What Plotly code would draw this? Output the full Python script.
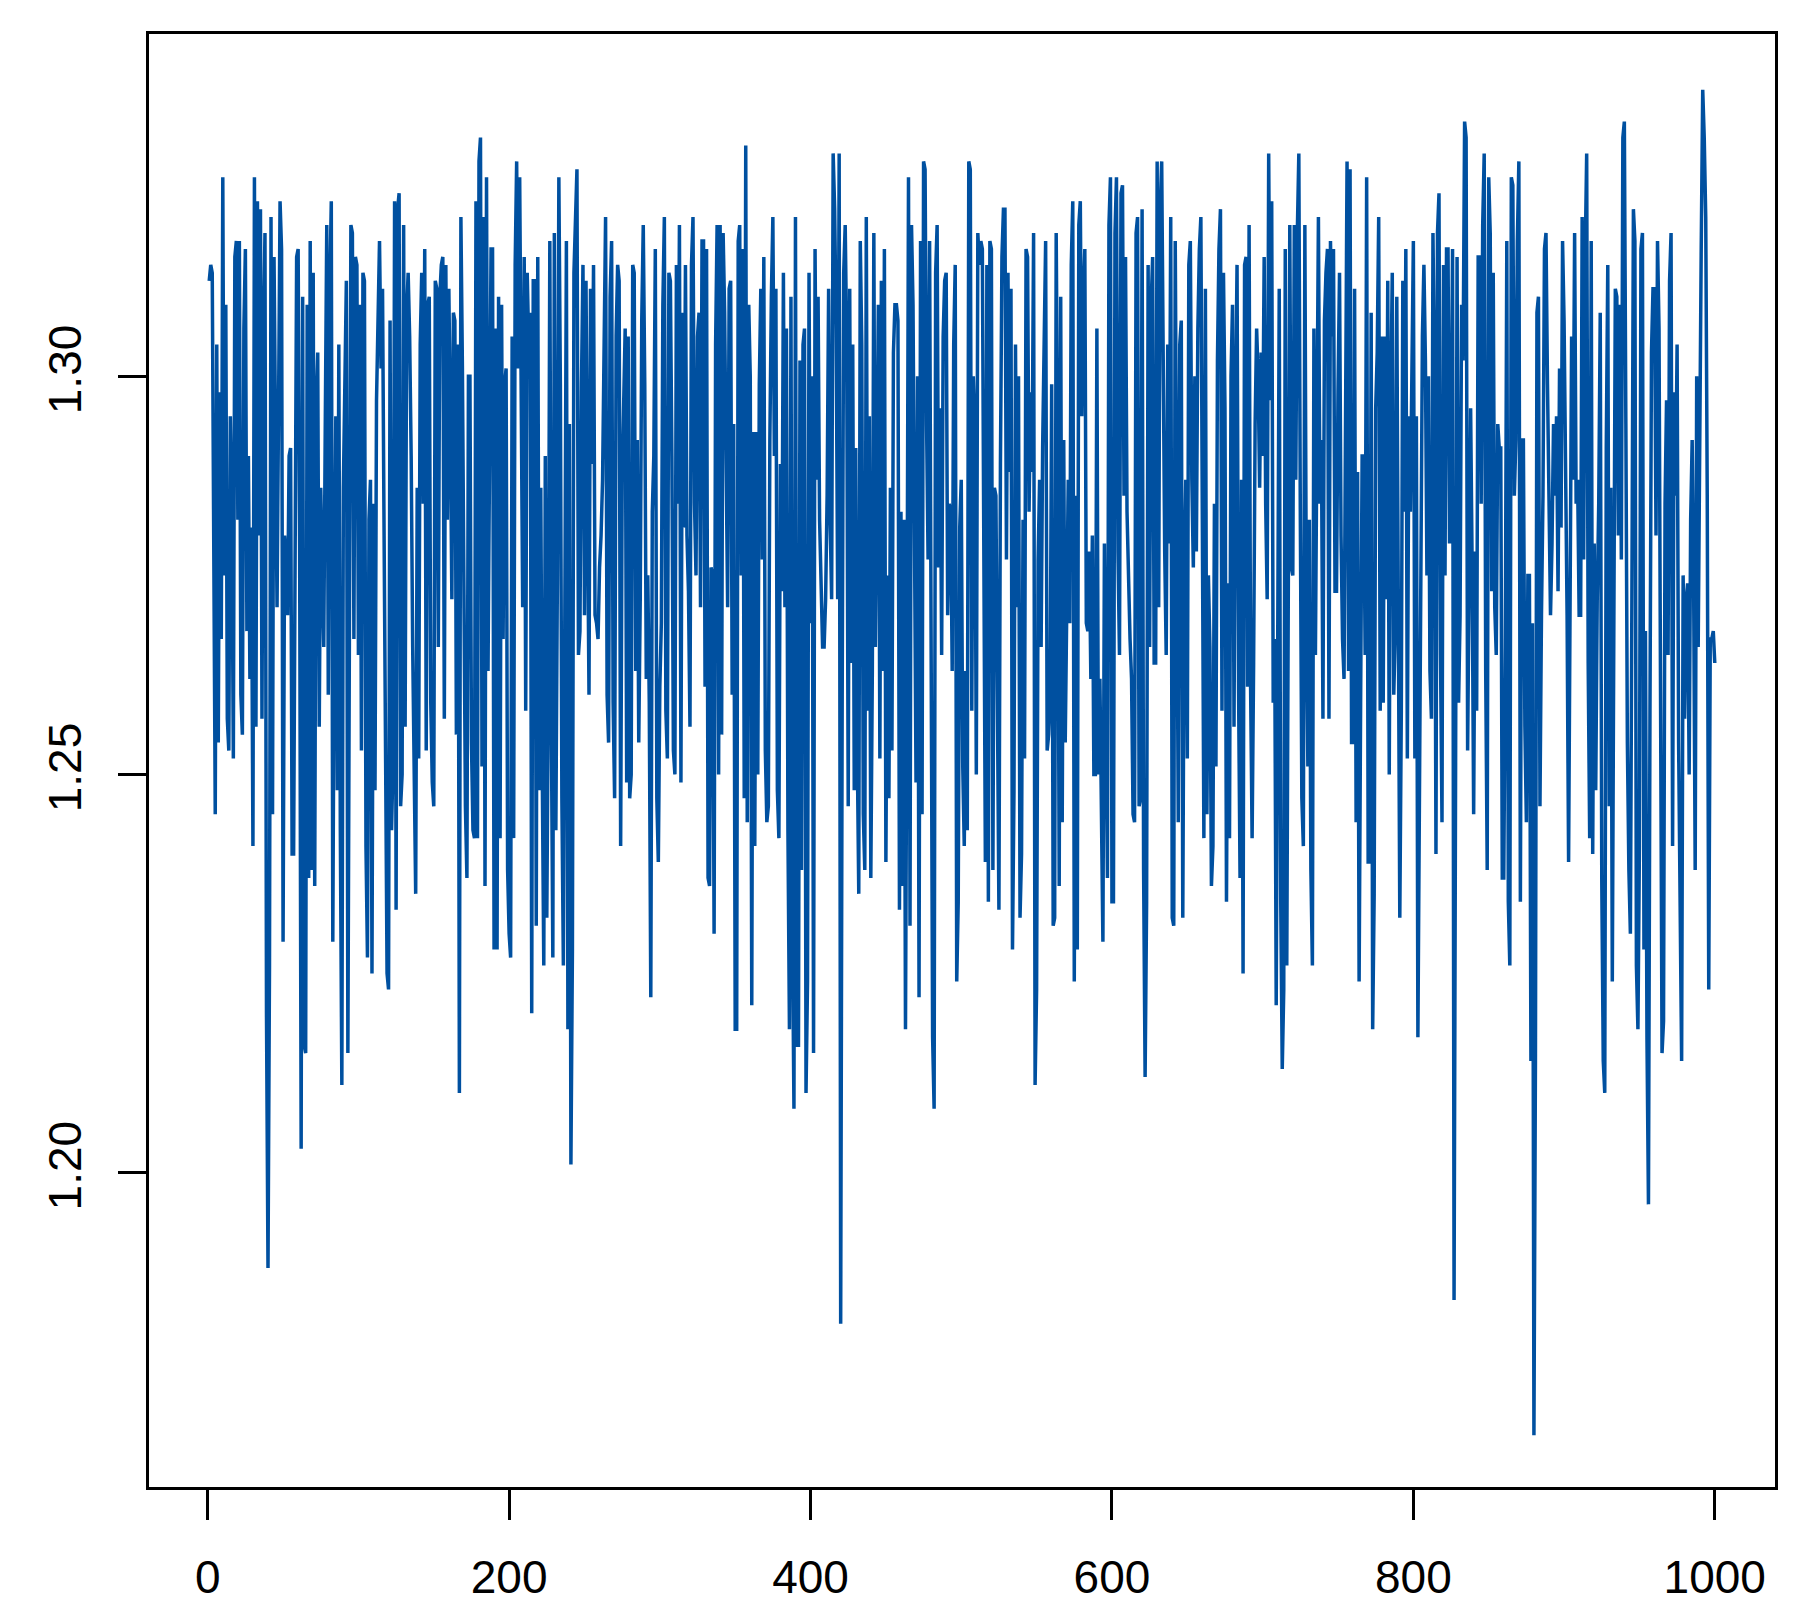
import plotly.graph_objects as go

# Series, index 1..1000, split by x-range
vals_001_088 = [
    1.312, 1.314, 1.313, 1.270, 1.245, 1.304, 1.254, 1.298, 1.267, 1.325,
    1.275, 1.309, 1.257, 1.253, 1.295, 1.284, 1.252, 1.315, 1.317, 1.282,
    1.317, 1.260, 1.255, 1.306, 1.316, 1.268, 1.290, 1.262, 1.281, 1.241,
    1.325, 1.256, 1.322, 1.280, 1.321, 1.257, 1.305, 1.318, 1.220, 1.188,
    1.226, 1.320, 1.245, 1.315, 1.297, 1.271, 1.296, 1.322, 1.316, 1.229,
    1.280, 1.277, 1.270, 1.290, 1.291, 1.240, 1.240, 1.278, 1.315, 1.316,
    1.278, 1.203, 1.310, 1.216, 1.215, 1.309, 1.237, 1.317, 1.238, 1.313,
    1.236, 1.297, 1.303, 1.256, 1.286, 1.276, 1.266, 1.294, 1.319, 1.260,
    1.311, 1.322, 1.229, 1.272, 1.295, 1.248, 1.304, 1.243,
]
vals_089_180 = [
    1.211, 1.286, 1.304, 1.312, 1.215, 1.259, 1.319, 1.318, 1.267, 1.315,
    1.314, 1.265, 1.309, 1.253, 1.313, 1.312, 1.241, 1.227, 1.282, 1.287,
    1.225, 1.284, 1.248, 1.297, 1.310, 1.317, 1.301, 1.311, 1.281, 1.248,
    1.225, 1.223, 1.307, 1.243, 1.252, 1.322, 1.233, 1.321, 1.323, 1.246,
    1.250, 1.319, 1.256, 1.308, 1.313, 1.305, 1.290, 1.266, 1.248, 1.235,
    1.286, 1.252, 1.304, 1.313, 1.284, 1.316, 1.253, 1.309, 1.310, 1.259,
    1.249, 1.246, 1.312, 1.311, 1.266, 1.310, 1.314, 1.315, 1.257, 1.314,
    1.282, 1.311, 1.294, 1.272, 1.308, 1.307, 1.255, 1.304, 1.210, 1.320,
    1.301, 1.272, 1.246, 1.237, 1.300, 1.300, 1.254, 1.243, 1.242, 1.322,
    1.242, 1.327,
]
vals_181_272 = [
    1.330, 1.251, 1.320, 1.236, 1.325, 1.263, 1.294, 1.316, 1.316, 1.228,
    1.306, 1.228, 1.310, 1.242, 1.309, 1.267, 1.299, 1.301, 1.238, 1.230,
    1.227, 1.305, 1.242, 1.314, 1.327, 1.301, 1.325, 1.295, 1.271, 1.315,
    1.258, 1.313, 1.304, 1.308, 1.220, 1.312, 1.312, 1.231, 1.315, 1.248,
    1.286, 1.250, 1.226, 1.290, 1.232, 1.260, 1.317, 1.257, 1.227, 1.318,
    1.243, 1.274, 1.325, 1.299, 1.247, 1.226, 1.284, 1.317, 1.218, 1.294,
    1.201, 1.228, 1.313, 1.322, 1.326, 1.265, 1.268, 1.299, 1.314, 1.270,
    1.312, 1.284, 1.260, 1.311, 1.289, 1.314, 1.270, 1.269, 1.267, 1.276,
    1.280, 1.287, 1.304, 1.320, 1.260, 1.254, 1.310, 1.317, 1.259, 1.247,
    1.305, 1.314,
]
vals_273_364 = [
    1.312, 1.241, 1.287, 1.299, 1.306, 1.249, 1.305, 1.247, 1.250, 1.314,
    1.313, 1.263, 1.292, 1.254, 1.272, 1.307, 1.319, 1.299, 1.262, 1.275,
    1.259, 1.222, 1.283, 1.290, 1.316, 1.247, 1.239, 1.261, 1.269, 1.309,
    1.320, 1.258, 1.252, 1.313, 1.312, 1.290, 1.253, 1.250, 1.314, 1.284,
    1.319, 1.249, 1.308, 1.281, 1.314, 1.280, 1.273, 1.256, 1.314, 1.320,
    1.284, 1.275, 1.305, 1.308, 1.271, 1.317, 1.317, 1.261, 1.316, 1.237,
    1.236, 1.276, 1.275, 1.230, 1.304, 1.319, 1.250, 1.319, 1.255, 1.318,
    1.308, 1.289, 1.271, 1.311, 1.312, 1.260, 1.294, 1.218, 1.218, 1.317,
    1.319, 1.275, 1.316, 1.247, 1.329, 1.244, 1.309, 1.300, 1.221, 1.293,
    1.241, 1.293,
]
vals_365_456 = [
    1.250, 1.299, 1.311, 1.277, 1.315, 1.253, 1.244, 1.246, 1.292, 1.310,
    1.320, 1.290, 1.311, 1.248, 1.242, 1.289, 1.273, 1.313, 1.271, 1.306,
    1.243, 1.218, 1.310, 1.230, 1.208, 1.320, 1.216, 1.216, 1.302, 1.238,
    1.304, 1.306, 1.210, 1.224, 1.313, 1.269, 1.300, 1.215, 1.316, 1.287,
    1.310, 1.282, 1.273, 1.266, 1.266, 1.272, 1.285, 1.311, 1.282, 1.272,
    1.328, 1.321, 1.306, 1.272, 1.328, 1.181, 1.260, 1.313, 1.319, 1.304,
    1.246, 1.311, 1.264, 1.304, 1.248, 1.291, 1.253, 1.235, 1.317, 1.304,
    1.245, 1.238, 1.320, 1.258, 1.295, 1.237, 1.263, 1.318, 1.266, 1.293,
    1.309, 1.252, 1.312, 1.263, 1.316, 1.239, 1.275, 1.247, 1.286, 1.253,
    1.303, 1.309,
]
vals_457_548 = [
    1.309, 1.307, 1.233, 1.283, 1.236, 1.282, 1.218, 1.265, 1.325, 1.231,
    1.319, 1.309, 1.284, 1.249, 1.300, 1.222, 1.317, 1.245, 1.327, 1.326,
    1.294, 1.277, 1.317, 1.268, 1.217, 1.208, 1.313, 1.319, 1.276, 1.296,
    1.265, 1.305, 1.312, 1.313, 1.270, 1.284, 1.283, 1.263, 1.304, 1.314,
    1.224, 1.234, 1.281, 1.287, 1.251, 1.241, 1.263, 1.243, 1.327, 1.326,
    1.258, 1.300, 1.294, 1.250, 1.318, 1.314, 1.317, 1.316, 1.272, 1.239,
    1.314, 1.234, 1.317, 1.316, 1.238, 1.286, 1.285, 1.259, 1.233, 1.289,
    1.315, 1.321, 1.321, 1.277, 1.313, 1.288, 1.311, 1.228, 1.248, 1.304,
    1.271, 1.300, 1.232, 1.240, 1.282, 1.252, 1.316, 1.315, 1.283, 1.298,
    1.288, 1.318,
]
vals_549_641 = [
    1.211, 1.223, 1.277, 1.287, 1.266, 1.291, 1.308, 1.317, 1.253, 1.255,
    1.260, 1.299, 1.231, 1.232, 1.318, 1.290, 1.236, 1.310, 1.244, 1.292,
    1.254, 1.268, 1.287, 1.269, 1.314, 1.322, 1.224, 1.285, 1.228, 1.319,
    1.322, 1.295, 1.310, 1.316, 1.269, 1.268, 1.278, 1.262, 1.280, 1.250,
    1.250, 1.306, 1.250, 1.262, 1.243, 1.229, 1.279, 1.253, 1.237, 1.319,
    1.325, 1.234, 1.234, 1.318, 1.325, 1.278, 1.265, 1.323, 1.324, 1.285,
    1.315, 1.283, 1.273, 1.267, 1.262, 1.245, 1.244, 1.318, 1.320, 1.246,
    1.247, 1.321, 1.238, 1.212, 1.234, 1.314, 1.266, 1.309, 1.315, 1.264,
    1.264, 1.327, 1.271, 1.321, 1.327, 1.298, 1.278, 1.265, 1.304, 1.279,
    1.320, 1.232, 1.231,
]
vals_642_733 = [
    1.317, 1.277, 1.244, 1.304, 1.307, 1.232, 1.276, 1.287, 1.252, 1.314,
    1.317, 1.287, 1.276, 1.300, 1.278, 1.306, 1.316, 1.320, 1.276, 1.242,
    1.311, 1.245, 1.275, 1.266, 1.236, 1.241, 1.284, 1.251, 1.302, 1.316,
    1.321, 1.258, 1.313, 1.296, 1.234, 1.274, 1.242, 1.300, 1.309, 1.256,
    1.296, 1.314, 1.261, 1.237, 1.287, 1.225, 1.314, 1.315, 1.261, 1.319,
    1.261, 1.242, 1.264, 1.294, 1.306, 1.300, 1.286, 1.303, 1.290, 1.315,
    1.284, 1.272, 1.328, 1.297, 1.322, 1.259, 1.267, 1.221, 1.267, 1.311,
    1.234, 1.213, 1.223, 1.316, 1.226, 1.278, 1.319, 1.276, 1.275, 1.319,
    1.287, 1.318, 1.328, 1.282, 1.247, 1.241, 1.319, 1.270, 1.251, 1.282,
    1.238, 1.226,
]
vals_734_825 = [
    1.306, 1.265, 1.303, 1.320, 1.284, 1.292, 1.257, 1.307, 1.313, 1.316,
    1.257, 1.317, 1.305, 1.316, 1.273, 1.273, 1.298, 1.313, 1.280, 1.267,
    1.262, 1.301, 1.327, 1.263, 1.326, 1.254, 1.254, 1.311, 1.244, 1.288,
    1.224, 1.259, 1.290, 1.290, 1.265, 1.325, 1.239, 1.239, 1.308, 1.218,
    1.235, 1.296, 1.303, 1.320, 1.258, 1.305, 1.259, 1.305, 1.272, 1.312,
    1.250, 1.297, 1.313, 1.260, 1.268, 1.310, 1.274, 1.232, 1.258, 1.312,
    1.283, 1.316, 1.252, 1.295, 1.283, 1.298, 1.317, 1.252, 1.295, 1.217,
    1.246, 1.268, 1.305, 1.314, 1.302, 1.275, 1.300, 1.263, 1.257, 1.318,
    1.300, 1.240, 1.318, 1.323, 1.265, 1.244, 1.314, 1.275, 1.316, 1.316,
    1.279, 1.288,
]
vals_826_917 = [
    1.316, 1.184, 1.242, 1.315, 1.259, 1.270, 1.309, 1.302, 1.332, 1.330,
    1.253, 1.275, 1.296, 1.276, 1.245, 1.278, 1.258, 1.315, 1.315, 1.284,
    1.319, 1.328, 1.263, 1.238, 1.325, 1.318, 1.273, 1.313, 1.271, 1.265,
    1.294, 1.291, 1.291, 1.237, 1.237, 1.266, 1.317, 1.234, 1.226, 1.325,
    1.324, 1.285, 1.292, 1.317, 1.327, 1.234, 1.292, 1.292, 1.256, 1.244,
    1.275, 1.275, 1.214, 1.269, 1.167, 1.214, 1.308, 1.310, 1.246, 1.270,
    1.285, 1.316, 1.318, 1.299, 1.283, 1.270, 1.279, 1.294, 1.285, 1.295,
    1.273, 1.301, 1.281, 1.317, 1.307, 1.291, 1.270, 1.239, 1.265, 1.305,
    1.287, 1.318, 1.284, 1.287, 1.270, 1.270, 1.320, 1.277, 1.315, 1.328,
    1.264, 1.242,
]
vals_918_1000 = [
    1.317, 1.240, 1.279, 1.248, 1.272, 1.284, 1.308, 1.237, 1.214, 1.210,
    1.291, 1.314, 1.246, 1.286, 1.224, 1.263, 1.311, 1.310, 1.280, 1.309,
    1.277, 1.330, 1.332, 1.294, 1.254, 1.238, 1.230, 1.272, 1.321, 1.317,
    1.226, 1.218, 1.241, 1.316, 1.318, 1.228, 1.268, 1.217, 1.196, 1.258,
    1.303, 1.311, 1.311, 1.280, 1.317, 1.306, 1.246, 1.215, 1.219, 1.284,
    1.297, 1.265, 1.312, 1.318, 1.241, 1.298, 1.285, 1.304, 1.254, 1.229,
    1.214, 1.275, 1.257, 1.272, 1.274, 1.250, 1.282, 1.292, 1.273, 1.238,
    1.300, 1.266, 1.296, 1.316, 1.336, 1.330, 1.320, 1.285, 1.223, 1.267,
    1.267, 1.268, 1.264,
]

values = (vals_001_088 + vals_089_180 + vals_181_272 + vals_273_364
          + vals_365_456 + vals_457_548 + vals_549_641 + vals_642_733
          + vals_734_825 + vals_826_917 + vals_918_1000)
index = list(range(1, len(values) + 1))

x_ticks = [0, 200, 400, 600, 800, 1000]
y_ticks = [1.20, 1.25, 1.30]
y_tick_labels = ["1.20", "1.25", "1.30"]

FONT = "Liberation Sans, Arial, Helvetica, sans-serif"

fig = go.Figure()
fig.add_trace(go.Scatter(
    x=index, y=values, mode="lines",
    line=dict(color="#0050a0", width=3.5),
    showlegend=False, hoverinfo="skip"
))

# page body has an 8px margin, so the figure is offset by that much
fig.update_layout(
    width=1781, height=1607, autosize=False,
    margin=dict(l=141, r=14, t=26, b=128),
    paper_bgcolor="white", plot_bgcolor="white",
    font=dict(family=FONT, size=46, color="black"),
)
fig.update_xaxes(
    range=[-38.96, 1039.96], tickvals=x_ticks,
    ticks="outside", ticklen=30, tickwidth=3, tickcolor="black",
    showline=True, linecolor="black", linewidth=3, mirror=True,
    showgrid=False, zeroline=False, ticklabelstandoff=18,
)
fig.update_yaxes(
    range=[1.1605, 1.3430], tickvals=y_ticks, ticktext=y_tick_labels,
    tickangle=-90,
    ticks="outside", ticklen=28, tickwidth=3, tickcolor="black",
    showline=True, linecolor="black", linewidth=3, mirror=True,
    showgrid=False, zeroline=False, ticklabelstandoff=19,
)

fig.write_html("out.html")
